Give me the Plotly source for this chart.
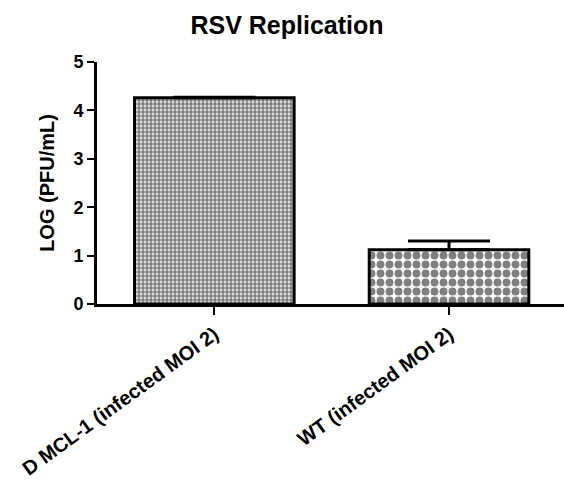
import plotly.graph_objects as go

categories = ["D MCL-1 (infected MOI 2)", "WT (infected MOI 2)"]
values = [4.26, 1.12]
err_plus = [0.01, 0.18]
err_minus = [0.0, 0.0]
y_ticks = [0, 1, 2, 3, 4, 5]

FONT = "Arial, Liberation Sans, sans-serif"

fig = go.Figure()
fig.add_trace(go.Bar(
    x=categories,
    y=values,
    width=0.68,
    marker=dict(
        color="white",
        line=dict(color="black", width=3),
        pattern=dict(shape=".", fgcolor="black", bgcolor="white",
                     size=[4, 9], solidity=[0.7, 0.6], fillmode="overlay"),
    ),
    error_y=dict(type="data", symmetric=False, array=err_plus, arrayminus=err_minus,
                 color="black", thickness=3, width=41),
))

fig.update_layout(
    width=564, height=481,
    margin=dict(l=97, r=0, t=62, b=177),
    paper_bgcolor="white", plot_bgcolor="white",
    showlegend=False,
    title=dict(text="<b>RSV Replication</b>", x=287 / 564, xanchor="center",
               y=1 - 25 / 481, yanchor="middle", yref="container",
               font=dict(family=FONT, size=25, color="black")),
    font=dict(family=FONT, color="black"),
)
fig.update_xaxes(
    range=[-0.5, 1.49], showline=True, linecolor="black", linewidth=3,
    ticks="outside", ticklen=8, tickwidth=2, tickcolor="black",
    tickangle=-36, tickfont=dict(family=FONT, size=20, color="black"),
    showgrid=False, zeroline=False,
    tickvals=categories, ticktext=[f"<b>{c}</b>" for c in categories],
)
fig.update_yaxes(
    range=[0, 5], showline=True, linecolor="black", linewidth=3,
    ticks="outside", ticklen=7, tickwidth=2, tickcolor="black",
    tickvals=y_ticks, ticktext=[f"<b>{t}</b>" for t in y_ticks],
    tickfont=dict(family=FONT, size=18, color="black"),
    showgrid=False, zeroline=False,
    title=dict(text="<b>LOG (PFU/mL)</b>", font=dict(family=FONT, size=20, color="black"),
               standoff=14),
)

fig.write_html("out.html")
